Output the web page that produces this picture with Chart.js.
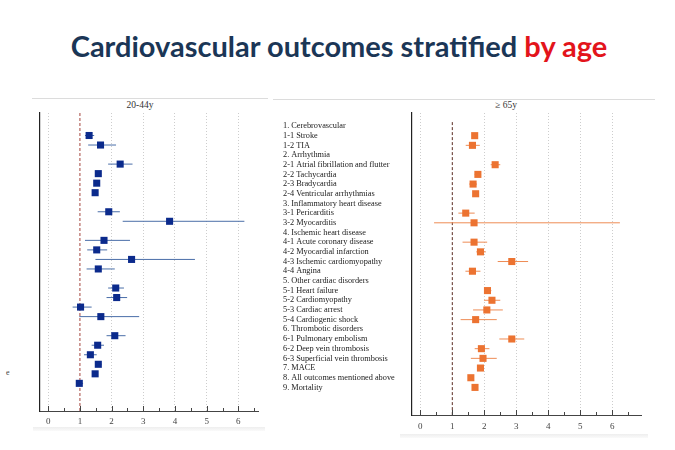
<!DOCTYPE html>
<html>
<head>
<meta charset="utf-8">
<script src="https://cdn.jsdelivr.net/npm/chart.js@4"></script>
<style>
    body { margin: 0; width: 675px; height: 450px; background: #fff; position: relative; overflow: hidden; }
    .abs { position: absolute; }
    #title { left: 0; width: 678px; top: 28px; text-align: center; font: bold 29px Lato, sans-serif; color: #1b3656; white-space: nowrap; }
    #title span { color: #e3141b; }
    .panelTitle { font: 9.5px 'Liberation Serif', serif; color: #333; white-space: nowrap; transform: translateX(-50%); }
    .rule { background: #dcdcdc; height: 1px; }
    .shade { background: linear-gradient(#eee, #fafafa); height: 4px; }
</style>
</head>
<body>
<div id="title" class="abs">Cardiovascular outcomes stratified <span>by age</span></div>

<div class="abs rule" style="left:32px; top:98px; width:236px;"></div>
<div class="abs rule" style="left:273px; top:99px; width:382px;"></div>
<div class="abs shade" style="left:33px; top:427px; width:232px;"></div>
<div class="abs shade" style="left:400px; top:434px; width:248px;"></div>

<div class="abs panelTitle" style="left:140px; top:100px;">20-44y</div>
<div class="abs panelTitle" style="left:506px; top:100px;">&ge; 65y</div>
<div class="abs" style="left:6px; top:368px; font:8px 'Liberation Serif', serif; color:#444;">e</div>

<canvas id="young" class="abs" width="250" height="340" style="left:20px; top:95px;"></canvas>
<canvas id="old" class="abs" width="375" height="345" style="left:275px; top:95px;"></canvas>

<script>
// outcome rows, top to bottom (group headers carry no estimate)
const outcomes = [
    '1. Cerebrovascular', '1-1 Stroke', '1-2 TIA',
    '2. Arrhythmia', '2-1 Atrial fibrillation and flutter', '2-2 Tachycardia', '2-3 Bradycardia', '2-4 Ventricular arrhythmias',
    '3. Inflammatory heart disease', '3-1 Pericarditis', '3-2 Myocarditis',
    '4. Ischemic heart disease', '4-1 Acute coronary disease', '4-2 Myocardial infarction', '4-3 Ischemic cardiomyopathy', '4-4 Angina',
    '5. Other cardiac disorders', '5-1 Heart failure', '5-2 Cardiomyopathy', '5-3 Cardiac arrest', '5-4 Cardiogenic shock',
    '6. Thrombotic disorders', '6-1 Pulmonary embolism', '6-2 Deep vein thrombosis', '6-3 Superficial vein thrombosis',
    '7. MACE', '8. All outcomes mentioned above', '9. Mortality'
];

// 20-44y
const youngHR = [null, 1.29, 1.65, null, 2.27, 1.58, 1.53, 1.48, null, 1.91, 3.83, null, 1.76, 1.53, 2.63, 1.58, null, 2.13, 2.16, 1.02, 1.66, null, 2.10, 1.56, 1.33, 1.58, 1.48, 0.98];
const youngLo = [null, 1.16, 1.26, null, 1.89, 1.50, 1.45, 1.40, null, 1.56, 2.35, null, 1.16, 1.23, 1.49, 1.21, null, 1.89, 1.84, 0.77, 0.98, null, 1.84, 1.37, 1.13, 1.48, 1.42, 0.88];
const youngHi = [null, 1.45, 2.14, null, 2.66, 1.67, 1.60, 1.56, null, 2.26, 6.19, null, 2.58, 1.86, 4.63, 2.10, null, 2.39, 2.49, 1.37, 2.87, null, 2.44, 1.76, 1.53, 1.68, 1.55, 1.10];

// >= 65y
const oldHR = [null, 1.70, 1.63, null, 2.34, 1.80, 1.65, 1.73, null, 1.42, 1.68, null, 1.68, 1.88, 2.86, 1.63, null, 2.10, 2.24, 2.08, 1.73, null, 2.86, 1.91, 1.96, 1.88, 1.58, 1.71];
const oldLo = [null, 1.62, 1.42, null, 2.20, 1.70, 1.53, 1.65, null, 1.19, 0.43, null, 1.32, 1.75, 2.42, 1.41, null, 2.00, 1.99, 1.65, 1.26, null, 2.47, 1.70, 1.58, 1.80, 1.52, 1.65];
const oldHi = [null, 1.78, 1.86, null, 2.50, 1.90, 1.77, 1.82, null, 1.70, 6.24, null, 2.09, 2.05, 3.37, 1.88, null, 2.22, 2.50, 2.58, 2.39, null, 3.25, 2.16, 2.39, 1.96, 1.64, 1.77];

const xLabels = [0, 1, 2, 3, 4, 5, 6];
const xMinor = [0.5, 1.5, 2.5, 3.5, 4.5, 5.5, 6.5];
const refValue = 1;

// tick marks drawn upward from the x axis, like the original plot
const innerTicks = {
    id: 'innerTicks',
    afterDraw(chart) {
        const s = chart.scales.x;
        const ctx = chart.ctx;
        ctx.save();
        ctx.strokeStyle = '#444';
        ctx.lineWidth = 1;
        s.ticks.forEach(t => {
            const px = Math.round(s.getPixelForValue(t.value)) + 0.5;
            const len = Number.isInteger(t.value) ? 5 : 3;
            ctx.beginPath();
            ctx.moveTo(px, s.top);
            ctx.lineTo(px, s.top - len);
            ctx.stroke();
        });
        ctx.restore();
    }
};

function buildCI(hr, lo, hi) {
    const pts = [];
    hr.forEach((v, i) => {
        if (v == null) return;
        pts.push({ x: lo[i], y: i }, { x: hi[i], y: i }, { x: NaN, y: NaN });
    });
    return pts;
}

function buildPoints(hr) {
    return hr.map((v, i) => v == null ? null : { x: v, y: i }).filter(p => p);
}

function makePanel(id, o) {
    new Chart(document.getElementById(id), {
        type: 'scatter',
        data: {
            datasets: [
                {
                    data: buildPoints(o.hr),
                    pointStyle: 'rect',
                    pointRadius: 5,
                    backgroundColor: o.marker,
                    borderWidth: 0
                },
                {
                    data: buildCI(o.hr, o.lo, o.hi),
                    showLine: true,
                    spanGaps: false,
                    pointRadius: 0,
                    borderColor: o.line,
                    borderWidth: 1
                },
                {
                    data: [{ x: refValue, y: o.refTop }, { x: refValue, y: o.yMax }],
                    showLine: true,
                    pointRadius: 0,
                    borderColor: o.refColor,
                    borderWidth: 1,
                    borderDash: [3, 2]
                }
            ]
        },
        options: {
            responsive: false,
            animation: false,
            devicePixelRatio: 1,
            layout: { padding: o.padding },
            plugins: { legend: { display: false }, tooltip: { enabled: false } },
            scales: {
                x: {
                    type: 'linear',
                    min: o.xMin,
                    max: o.xMax,
                    afterBuildTicks: s => {
                        s.ticks = xLabels.concat(xMinor).sort((a, b) => a - b).map(v => ({ value: v }));
                    },
                    afterFit: s => { s.height = o.xAxisH; },
                    ticks: {
                        autoSkip: false,
                        maxRotation: 0,
                        padding: o.tickPad,
                        color: '#444',
                        font: { family: "'Liberation Serif', serif", size: 9 },
                        callback: v => Number.isInteger(v) ? String(v) : ''
                    },
                    grid: {
                        drawTicks: false,
                        color: c => (c.tick && Number.isInteger(c.tick.value) && c.tick.value !== refValue) ? '#cdcdcd' : 'rgba(0,0,0,0)'
                    },
                    border: { display: true, color: '#444', width: 1, dash: [1, 2] }
                },
                y: {
                    type: 'linear',
                    reverse: true,
                    min: o.yMin,
                    max: o.yMax,
                    afterBuildTicks: s => {
                        s.ticks = outcomes.map((_, i) => ({ value: i }));
                    },
                    afterFit: s => { s.width = o.yAxisW; },
                    ticks: {
                        display: o.showLabels,
                        autoSkip: false,
                        crossAlign: 'far',
                        color: '#1a1a1a',
                        font: { family: "'Liberation Serif', serif", size: 8.3 },
                        callback: v => outcomes[v]
                    },
                    grid: { display: false },
                    border: { display: true, color: '#222', width: 1.2 }
                }
            }
        },
        plugins: [innerTicks]
    });
}

makePanel('young', {
    hr: youngHR, lo: youngLo, hi: youngHi,
    marker: '#0b2a8c', line: '#4a6ea8', refColor: '#a3443c',
    xMin: -0.26, xMax: 6.62, yMin: -1.36, yMax: 29.9, refTop: -1.36,
    padding: { left: 20, right: 12, top: 18, bottom: 0 },
    xAxisH: 24, tickPad: 5, yAxisW: 0, showLabels: false
});

makePanel('old', {
    hr: oldHR, lo: oldLo, hi: oldHi,
    marker: '#ec7331', line: '#ee8c55', refColor: '#5a2c22',
    xMin: -0.26, xMax: 6.9, yMin: -1.34, yMax: 29.85, refTop: -0.4,
    padding: { left: 8, right: 9, top: 18, bottom: 0 },
    xAxisH: 25, tickPad: 6, yAxisW: 129, showLabels: true
});
</script>
</body>
</html>
